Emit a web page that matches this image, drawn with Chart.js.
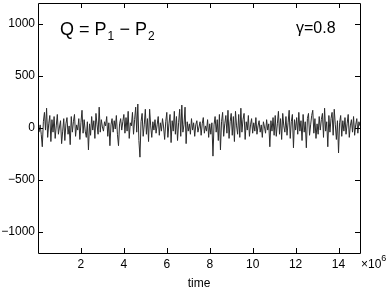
<!DOCTYPE html>
<html>
<head>
<meta charset="utf-8">
<script src="https://cdn.jsdelivr.net/npm/chart.js@4.4.1/dist/chart.umd.min.js"></script>
<style>
  html, body { margin: 0; padding: 0; background: #fff; }
  #wrap { width: 391px; height: 291px; }
</style>
</head>
<body>
<div id="wrap"><canvas id="qChart" width="391" height="291"></canvas></div>
<script>
// time axis in units of 10^6, sampled uniformly over [0, 15]
const timeMax = 15;
const xTicks = [2, 4, 6, 8, 10, 12, 14];
const yTicks = [-1000, -500, 0, 500, 1000];

// Q = P1 - P2 (300 samples)
const qValues = [
  -40, 30, -60, -180, 60, 150, -20, 190, -90, 40, 120, -130, 80, -40, 110, -100, 20, 130, -60, 10,
  70, -150, -30, 90, -120, 40, 100, -60, 20, -160, 110, -40, 60, 130, -80, 30, -20, 90, -110, 50,
  170, -50, 80, -30, -90, 60, -210, 40, -70, 110, -20, 70, -100, 140, 30, -60, 200, -40, 80, 10,
  -30, 60, 20, 110, -80, 50, -170, 30, 90, -40, 70, -10, 120, -60, -170, 40, 90, -20, 60, 130,
  -50, 100, -30, 160, -100, 50, 20, 150, -60, 80, 200, -40, 230, -120, -280, 60, 140, -80, 30, 180,
  -60, 90, -130, 180, 20, -90, 60, -20, 80, -50, 30, 110, -70, 50, -30, 90, 10, -110, 60, 150,
  -90, 40, 130, -140, 70, -30, 160, -60, 110, -120, 50, 180, -80, 220, -40, 30, 200, -150, 60, -30,
  40, -60, 90, -20, 50, -80, 30, 70, -40, 10, 60, -70, 40, 100, -50, 20, -30, 80, -90, 40,
  -60, 50, -270, 30, 110, -40, 80, -120, 130, -210, 60, 150, -80, 40, 120, -50, 170, -100, 60, 140,
  -70, 110, -130, 160, 20, -60, 130, -90, 190, -40, 80, 140, -110, 60, -20, 120, -80, 30, 90, -50,
  50, -30, 100, -60, 20, 70, -40, 30, -90, 60, 10, -50, 80, -20, 40, -180, 70, -30, 100, -70,
  120, -80, 40, 160, -60, 90, -110, 140, 20, -40, 110, -70, 50, 170, -100, 60, 130, -190, 80, -20,
  100, -60, 150, -30, 70, -120, 130, -40, 60, -190, 90, 140, -70, 30, 120, 170, -50, 90, -100, 40,
  -60, 110, -20, 80, 140, -90, 190, -30, 60, -180, 120, -40, 90, 150, -70, 180, 30, -110, 70, -240,
  50, 120, -80, 70, -30, 100, -60, 40, 130, -90, 20, 80, -40, 110, -70, 30, 90, -50, 60, 20
];

const points = qValues.map((v, i) => ({ x: (i + 1) * timeMax / qValues.length, y: v }));

const font = "'Liberation Sans', Arial, Helvetica, sans-serif";

// matlab style box with inward ticks plus the two annotations
const boxPlugin = {
  id: "boxPlugin",
  afterDraw(chart) {
    const { ctx, chartArea: a, scales } = chart;
    const len = 5;
    ctx.save();
    ctx.strokeStyle = "#000";
    ctx.lineWidth = 1;
    ctx.beginPath();
    ctx.rect(Math.round(a.left) + 0.5, Math.round(a.top) + 0.5,
      Math.round(a.right - a.left), Math.round(a.bottom - a.top));
    xTicks.forEach((t) => {
      const px = Math.round(scales.x.getPixelForValue(t)) + 0.5;
      ctx.moveTo(px, a.bottom); ctx.lineTo(px, a.bottom - len);
      ctx.moveTo(px, a.top); ctx.lineTo(px, a.top + len);
    });
    yTicks.forEach((t) => {
      const py = Math.round(scales.y.getPixelForValue(t)) + 0.5;
      ctx.moveTo(a.left, py); ctx.lineTo(a.left + len, py);
      ctx.moveTo(a.right, py); ctx.lineTo(a.right - len, py);
    });
    ctx.stroke();

    ctx.fillStyle = "#000";
    ctx.textBaseline = "alphabetic";
    ctx.font = `18px ${font}`;
    ctx.fillText("Q = P", 60, 35);
    let w = ctx.measureText("Q = P").width;
    ctx.font = `12px ${font}`;
    ctx.fillText("1", 60 + w + 1, 40);
    ctx.font = `18px ${font}`;
    ctx.fillText("\u2212 P", 60 + w + 13, 35);
    let w2 = ctx.measureText("\u2212 P").width;
    ctx.font = `12px ${font}`;
    ctx.fillText("2", 60 + w + 14 + w2, 40);

    ctx.font = `16px ${font}`;
    ctx.fillText("\u03b3=0.8", 296, 33);

    ctx.font = `12px ${font}`;
    ctx.fillText("\u00d710", 361, 268);
    const w3 = ctx.measureText("\u00d710").width;
    ctx.font = `9px ${font}`;
    ctx.fillText("6", 361 + w3, 261);
    ctx.restore();
  }
};

new Chart(document.getElementById("qChart"), {
  type: "line",
  data: {
    datasets: [{
      data: points,
      borderColor: "#2a2a2a",
      borderWidth: 1,
      pointRadius: 0,
      tension: 0,
      fill: false
    }]
  },
  options: {
    responsive: false,
    animation: false,
    devicePixelRatio: 1,
    layout: { padding: { top: 3, right: 31, bottom: 0, left: 0 } },
    plugins: { legend: { display: false }, tooltip: { enabled: false } },
    scales: {
      x: {
        type: "linear",
        min: 0,
        max: timeMax,
        grid: { display: false, drawTicks: false, tickLength: 0 },
        border: { display: false },
        afterBuildTicks: (s) => { s.ticks = xTicks.map((v) => ({ value: v })); },
        afterFit: (s) => { s.height = 38; s.paddingLeft = 0; s.paddingRight = 0; },
        ticks: { color: "#000", font: { family: font, size: 12 }, padding: 4, maxRotation: 0 },
        title: { display: true, text: "time", color: "#000", font: { family: font, size: 12 }, padding: { top: 2, bottom: 0 } }
      },
      y: {
        min: -1200,
        max: 1200,
        grid: { display: false, drawTicks: false, tickLength: 0 },
        border: { display: false },
        afterBuildTicks: (s) => { s.ticks = yTicks.map((v) => ({ value: v })); },
        afterFit: (s) => { s.width = 38; s.paddingTop = 0; s.paddingBottom = 0; },
        ticks: {
          color: "#000",
          font: { family: font, size: 12 },
          padding: 3,
          callback: (v) => (v < 0 ? "\u2212" + Math.abs(v) : String(v))
        }
      }
    }
  },
  plugins: [boxPlugin]
});
</script>
</body>
</html>
